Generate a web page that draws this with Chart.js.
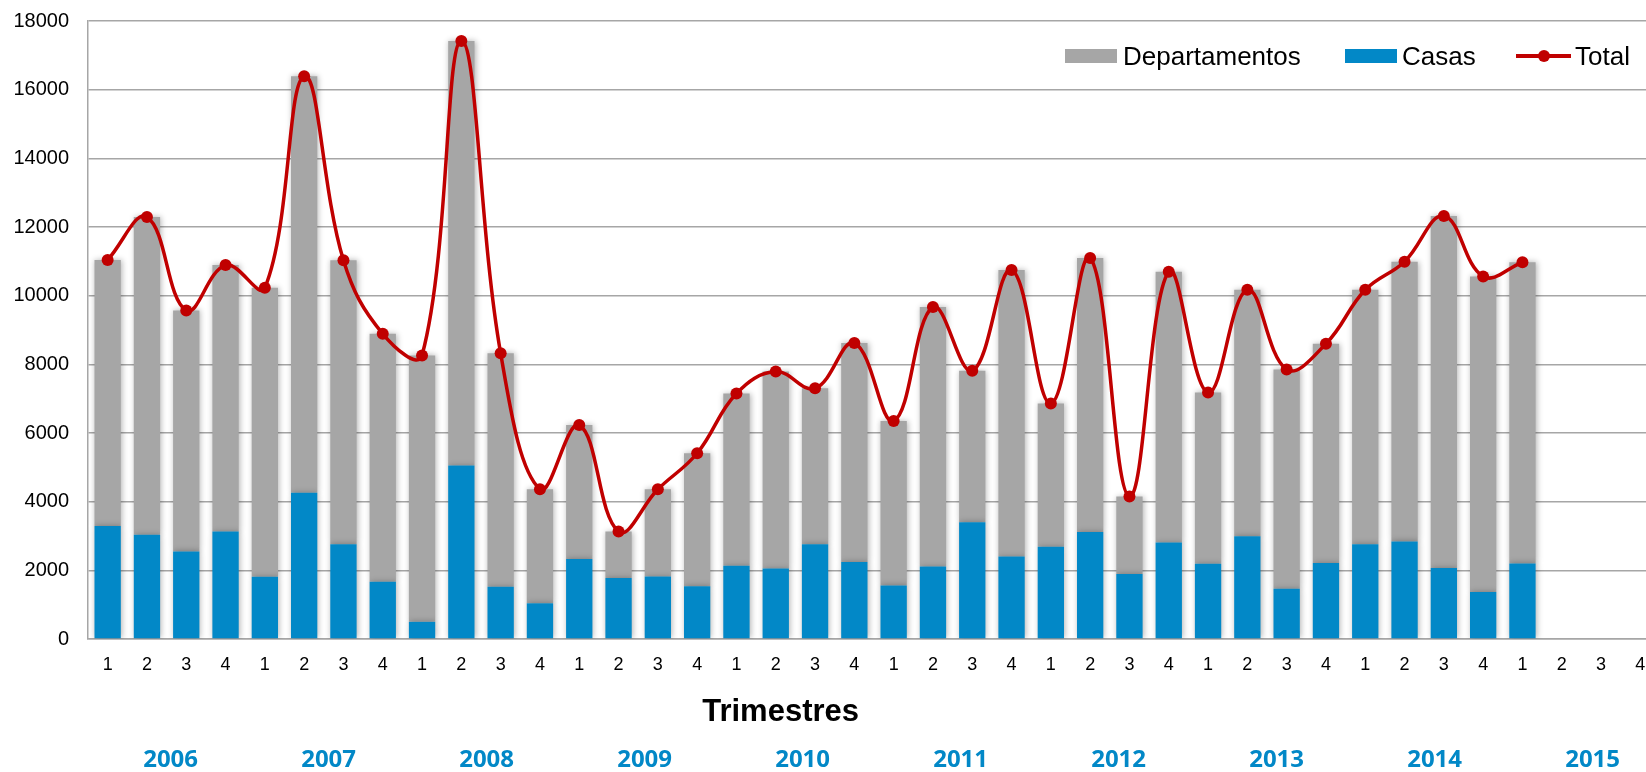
<!DOCTYPE html>
<html>
<head>
<meta charset="utf-8">
<title>Trimestres</title>
<script src="https://cdn.jsdelivr.net/npm/chart.js@4.4.0/dist/chart.umd.min.js"></script>
<style>
  html, body { margin: 0; padding: 0; background: #fff; overflow: hidden; }
  #wrap { position: relative; width: 1672px; height: 772px; }
  #chart { display: block; }
  .lg { position: absolute; font-family: 'Liberation Sans', Arial, sans-serif; font-size: 26px; color: #000; line-height: 30px; top: 41px; white-space: nowrap; }
  .box { position: absolute; top: 49px; width: 52px; height: 14px; }
  .lline { position: absolute; top: 54px; left: 1516px; width: 55px; height: 4px; background: #C00000; }
  .ldot { position: absolute; top: 50px; left: 1538px; width: 12px; height: 12px; border-radius: 50%; background: #C00000; }
</style>
</head>
<body>
<div id="wrap">
  <canvas id="chart" width="1672" height="772"></canvas>
  <div class="box" style="left:1065px;background:#A6A6A6"></div>
  <div class="lg" style="left:1123px">Departamentos</div>
  <div class="box" style="left:1345px;background:#0288C7"></div>
  <div class="lg" style="left:1402px">Casas</div>
  <div class="lline"></div>
  <div class="ldot"></div>
  <div class="lg" style="left:1575px">Total</div>
</div>
<script>
// quarters 2006 Q1 .. 2015 Q4
const quarters = ['1','2','3','4','1','2','3','4','1','2','3','4','1','2','3','4','1','2','3','4',
                  '1','2','3','4','1','2','3','4','1','2','3','4','1','2','3','4','1','2','3','4'];
const years = ['2006','2007','2008','2009','2010','2011','2012','2013','2014','2015'];

const casas = [3290, 3040, 2550, 3130,  1810, 4260, 2760, 1670,  500, 5050, 1520, 1040,
               2330, 1780, 1820, 1540,  2130, 2050, 2760, 2240,  1560, 2110, 3400, 2400,
               2690, 3120, 1890, 2810,  2190, 2990, 1460, 2210,  2760, 2840, 2070, 1370,
               2200, null, null, null];
const departamentos = [7750, 9250, 7020, 7760,  8420, 12130, 8270, 7220,  7760, 12370, 6800, 3320,
                       3900, 1350, 2540, 3870,  5020, 5740, 4540, 6380,  4790, 7560, 4410, 8350,
                       4170, 7980, 2260, 7890,  4990, 7180, 6390, 6390,  7410, 8150, 10250, 9190,
                       8770, null, null, null];
const total = [11040, 12290, 9570, 10890,  10230, 16390, 11030, 8890,  8260, 17420, 8320, 4360,
               6230, 3130, 4360, 5410,  7150, 7790, 7300, 8620,  6350, 9670, 7810, 10750,
               6860, 11100, 4150, 10700,  7180, 10170, 7850, 8600,  10170, 10990, 12320, 10560,
               10970, null, null, null];

const axisTitle = 'Trimestres';

const gray = '#A6A6A6';
const blue = '#0288C7';
const red = '#C00000';

// soft shadow behind the bars
const barShadow = {
    id: 'barShadow',
    beforeDatasetDraw(chart, args) {
        if (args.meta.type !== 'bar') return;
        const ctx = chart.ctx;
        ctx.save();
        ctx.shadowColor = 'rgba(0,0,0,0.3)';
        ctx.shadowBlur = 6;
        ctx.shadowOffsetX = 1;
    },
    afterDatasetDraw(chart, args) {
        if (args.meta.type !== 'bar') return;
        chart.ctx.restore();
    }
};

// axis title and the year row under the quarters
const extraLabels = {
    id: 'extraLabels',
    afterDraw(chart) {
        const ctx = chart.ctx;
        const x = chart.scales.x;
        const area = chart.chartArea;
        ctx.save();
        ctx.textAlign = 'center';
        ctx.textBaseline = 'middle';
        ctx.fillStyle = '#000';
        ctx.font = 'bold 31px "Liberation Sans", Arial, sans-serif';
        ctx.fillText(axisTitle, area.left + (area.right - area.left) * 0.4406, 712);
        ctx.fillStyle = blue;
        ctx.font = 'bold 24px "Open Sans", sans-serif';
        years.forEach(function (yr, i) {
            const cx = (x.getPixelForValue(i * 4) + x.getPixelForValue(i * 4 + 3)) / 2 + 4 + i * 0.8;
            ctx.fillText(yr, cx, 760);
        });
        ctx.restore();
    }
};

new Chart(document.getElementById('chart'), {
    data: {
        labels: quarters,
        datasets: [
            {
                type: 'line',
                label: 'Total',
                data: total,
                order: 0,
                borderColor: red,
                backgroundColor: red,
                borderWidth: 3.5,
                tension: 0.4,
                pointRadius: 6,
                pointBackgroundColor: red,
                pointBorderWidth: 0
            },
            {
                type: 'bar',
                label: 'Casas',
                data: casas,
                order: 1,
                backgroundColor: blue,
                stack: 'viv',
                categoryPercentage: 1,
                barPercentage: 0.67
            },
            {
                type: 'bar',
                label: 'Departamentos',
                data: departamentos,
                order: 2,
                backgroundColor: gray,
                stack: 'viv',
                categoryPercentage: 1,
                barPercentage: 0.67
            }
        ]
    },
    options: {
        responsive: false,
        animation: false,
        layout: { padding: { left: 0, top: 21, right: 12, bottom: 0 } },
        plugins: {
            legend: { display: false },
            tooltip: { enabled: false }
        },
        scales: {
            x: {
                stacked: true,
                grid: { display: false, drawTicks: false },
                border: { display: true, color: gray, width: 1.5 },
                ticks: {
                    autoSkip: false,
                    maxRotation: 0,
                    padding: 15,
                    color: '#000',
                    font: { family: "'Liberation Sans', Arial, sans-serif", size: 18 }
                },
                afterFit(scale) { scale.height = 133; }
            },
            y: {
                stacked: true,
                min: 0,
                max: 18000,
                grid: { color: gray, lineWidth: 1.5, drawTicks: false },
                border: { display: true, color: gray, width: 1.5 },
                ticks: {
                    stepSize: 2000,
                    padding: 19,
                    color: '#000',
                    font: { family: "'Liberation Sans', Arial, sans-serif", size: 20 },
                    callback: function (v) { return String(v); }
                },
                afterFit(scale) {
                    scale.width = 88;
                    scale.paddingTop = 12;
                    scale.paddingBottom = 12;
                }
            }
        }
    },
    plugins: [barShadow, extraLabels]
});
</script>
</body>
</html>
